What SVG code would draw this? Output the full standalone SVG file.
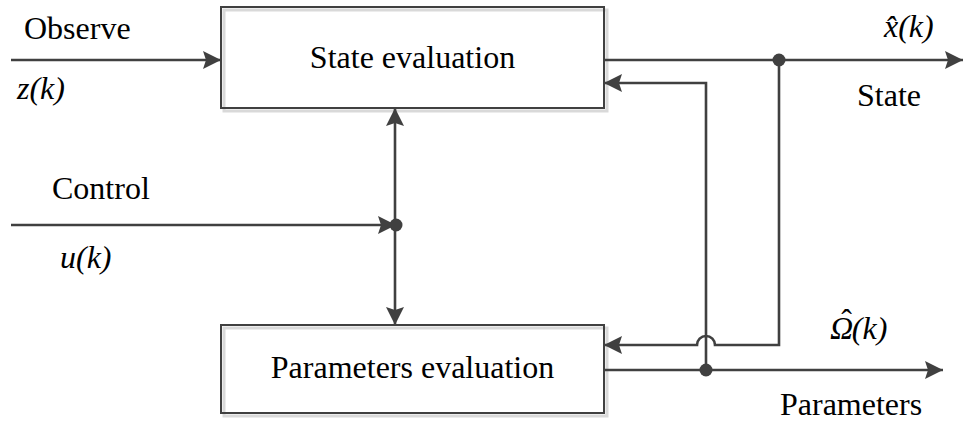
<svg xmlns="http://www.w3.org/2000/svg" width="963" height="421" viewBox="0 0 963 421">
<style>
.t{font-family:"Liberation Serif","Times New Roman",serif;font-size:32px;fill:#000}
.i{font-style:italic}
.box{fill:none;stroke:#404040;stroke-width:2}
.sh{fill:none;stroke:#d9d9d9;stroke-width:3}
.ln{fill:none;stroke:#404040;stroke-width:2.6}
.dot{fill:#404040}
</style>
<defs>
<marker id="ar" markerUnits="userSpaceOnUse" markerWidth="20" markerHeight="20" refX="18" refY="9" orient="auto" viewBox="0 0 20 18">
<path d="M0,0 L18,9 L0,18 L3,9 Z" fill="#404040"/>
</marker>
</defs>
<rect width="963" height="421" fill="#fff"/>
<g id="state-eval">
<rect class="sh" x="224" y="10" width="383" height="101"/>
<rect class="box" x="221" y="7" width="383" height="101" fill="#fff"/>
<text class="t" x="412.5" y="68" text-anchor="middle">State evaluation</text>
</g>
<g id="param-eval">
<rect class="sh" x="224" y="328" width="383" height="88"/>
<rect class="box" x="221" y="325" width="383" height="88"/>
<text class="t" x="412.5" y="378" text-anchor="middle">Parameters evaluation</text>
</g>
<g id="connectors">
<path class="ln" d="M11,60 H221" marker-end="url(#ar)"/>
<path class="ln" d="M604,60 H963" marker-end="url(#ar)"/>
<path class="ln" d="M779,60 V345 H715 A9,9 0 0 0 697,345 H604" marker-end="url(#ar)"/>
<path class="ln" d="M706,370 V83 H604" marker-end="url(#ar)"/>
<path class="ln" d="M604,370 H943" marker-end="url(#ar)"/>
<path class="ln" d="M395,225 V108" marker-end="url(#ar)"/>
<path class="ln" d="M395,225 V325" marker-end="url(#ar)"/>
<path class="ln" d="M11,225 H396" marker-end="url(#ar)"/>
<circle class="dot" cx="779" cy="60" r="6.5"/>
<circle class="dot" cx="706" cy="370" r="6.5"/>
<circle class="dot" cx="396" cy="225" r="6.5"/>
</g>
<g id="labels">
<text class="t" x="24" y="39">Observe</text>
<text class="t i" x="17" y="99">z(k)</text>
<text class="t" x="52" y="199">Control</text>
<text class="t i" x="60" y="268">u(k)</text>
<text class="t i" x="884" y="37">x̂(k)</text>
<text class="t" x="857" y="106">State</text>
<text class="t i" x="830" y="339">Ω<tspan dx="-12" dy="-8" font-style="normal">ˆ</tspan><tspan dy="8">(k)</tspan></text>
<text class="t" x="780" y="415">Parameters</text>
</g>
</svg>
